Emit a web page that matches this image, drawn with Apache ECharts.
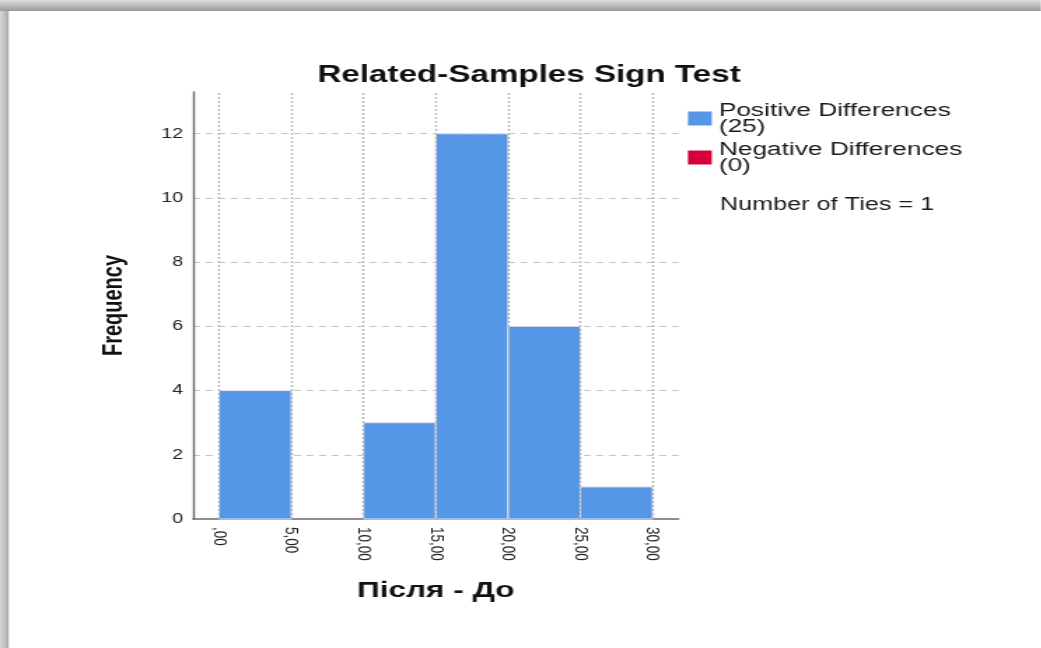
<!DOCTYPE html>
<html>
<head>
<meta charset="utf-8">
<script src="https://cdn.jsdelivr.net/npm/echarts@6/dist/echarts.min.js"></script>
<style>
  html, body { margin: 0; padding: 0; background: #ffffff; overflow: hidden; }
  #wrap { width: 1041px; height: 648px; position: relative; overflow: hidden; }
  #chart { width: 743.57px; height: 648px; transform: scaleX(1.4); transform-origin: 0 0; position: absolute; left: 0; top: 0; }
</style>
</head>
<body>
<div id="wrap"><div id="chart"></div></div>
<script>
// ---- data ----
const binStart = [0, 5, 10, 15, 20, 25];
const binEnd = [5, 10, 15, 20, 25, 30];
const positiveFreq = [4, 0, 3, 12, 6, 1];
const negativeFreq = [0, 0, 0, 0, 0, 0];
const xTicks = [0, 5, 10, 15, 20, 25, 30];
const xTickLabels = [',00', '5,00', '10,00', '15,00', '20,00', '25,00', '30,00'];
const positiveCount = 25;
const negativeCount = 0;
const numberOfTies = 1;
const titleText = 'Related-Samples Sign Test';
const xAxisTitle = 'Після - До';
const yAxisTitle = 'Frequency';

const FONT = 'Liberation Sans, Arial, sans-serif';
const posName = 'Positive Differences\n(' + positiveCount + ')';
const negName = 'Negative Differences\n(' + negativeCount + ')';

function toRows(freq) {
  return freq.map((f, i) => [binStart[i], binEnd[i], f]);
}

function renderBin(params, api) {
  const x0 = api.value(0), x1 = api.value(1), h = api.value(2);
  if (!h) return { type: 'group', children: [] };
  const p0 = api.coord([x0, h]);
  const p1 = api.coord([x1, 0]);
  return {
    type: 'rect',
    shape: { x: p0[0], y: p0[1], width: p1[0] - p0[0], height: p1[1] - p0[1] },
    style: { fill: api.visual('color'), stroke: '#dfe6ee', lineWidth: 1 }
  };
}

const chart = echarts.init(document.getElementById('chart'));
chart.setOption({
  animation: false,
  backgroundColor: '#ffffff',
  title: [
    {
      text: titleText, left: 377.9, top: 63, padding: 0, textAlign: 'center',
      textStyle: { fontFamily: FONT, fontSize: 23.7, fontWeight: 'bold', color: '#111' }
    },
    {
      text: 'Number of Ties = ' + numberOfTies, left: 514.3, top: 196.5, padding: 0,
      textStyle: { fontFamily: FONT, fontSize: 18, fontWeight: 'normal', color: '#1a1a1a' }
    }
  ],
  legend: {
    orient: 'vertical', left: 491.4, top: 101, padding: 0, itemGap: 4,
    itemWidth: 17, itemHeight: 14, icon: 'rect',
    data: [posName, negName],
    textStyle: { fontFamily: FONT, fontSize: 18.8, lineHeight: 16, color: '#1a1a1a' },
    selectedMode: false
  },
  grid: { left: 137.9, right: 259.3, top: 92, bottom: 129, containLabel: false },
  xAxis: {
    type: 'value', min: -1.8, max: 31.8,
    name: xAxisTitle, nameLocation: 'middle', nameGap: 60,
    nameTextStyle: { fontFamily: FONT, fontSize: 22.5, fontWeight: 'bold', color: '#111' },
    axisLine: { show: true, onZero: false, lineStyle: { color: '#6a6a6a', width: 1.5 } },
    axisTick: { show: false, customValues: xTicks },
    splitLine: { show: false },
    axisLabel: {
      customValues: xTicks, rotate: -90, margin: 8,
      fontFamily: FONT, fontSize: 13.5, color: '#222',
      formatter: v => { const i = xTicks.indexOf(v); return i >= 0 ? xTickLabels[i] : ''; }
    }
  },
  yAxis: {
    type: 'value', min: 0, max: 13.3, interval: 2,
    name: yAxisTitle, nameLocation: 'middle', nameGap: 46, nameRotate: 90,
    nameTextStyle: { fontFamily: FONT, fontSize: 20, fontWeight: 'bold', color: '#111' },
    axisLine: { show: true, onZero: false, lineStyle: { color: '#6a6a6a', width: 1.4 } },
    axisTick: { show: false },
    axisLabel: {
      margin: 7, fontFamily: FONT, fontSize: 14, color: '#222', showMaxLabel: false,
      formatter: v => (v % 2 === 0 ? String(v) : '')
    },
    splitLine: {
      show: true, showMinLine: false, showMaxLine: false,
      lineStyle: { color: '#c4c4c4', width: 1, type: [5, 4] }
    }
  },
  graphic: [
    {
      type: 'rect', silent: true, z: 100,
      shape: { x: 0, y: 0, width: 743.6, height: 11 },
      style: { fill: new echarts.graphic.LinearGradient(0, 0, 0, 1, [
        { offset: 0, color: '#dedede' }, { offset: 0.6, color: '#b4b4b4' }, { offset: 1, color: '#999999' }
      ]) }
    },
    {
      type: 'rect', silent: true, z: 100,
      shape: { x: 0, y: 11, width: 6.2, height: 637 },
      style: { fill: new echarts.graphic.LinearGradient(0, 0, 1, 0, [
        { offset: 0, color: '#d6d6d6' }, { offset: 0.6, color: '#bdbdbd' }, { offset: 1, color: '#a6a6a6' }
      ]) }
    }
  ],
  series: [
    {
      name: posName, type: 'custom', renderItem: renderBin,
      itemStyle: { color: '#5596e6' },
      encode: { x: [0, 1], y: 2 },
      data: toRows(positiveFreq), z: 2
    },
    {
      name: negName, type: 'custom', renderItem: renderBin,
      itemStyle: { color: '#d5003a' },
      encode: { x: [0, 1], y: 2 },
      data: toRows(negativeFreq), z: 2
    },
    {
      name: 'xgrid', type: 'line', data: [], z: 3, silent: true,
      markLine: {
        silent: true, symbol: ['none', 'none'], label: { show: false },
        lineStyle: { color: '#b4b4b4', width: 1.4, type: [2, 2] },
        emphasis: { disabled: true },
        data: xTicks.map(v => ({ xAxis: v }))
      }
    }
  ]
});
</script>
</body>
</html>
